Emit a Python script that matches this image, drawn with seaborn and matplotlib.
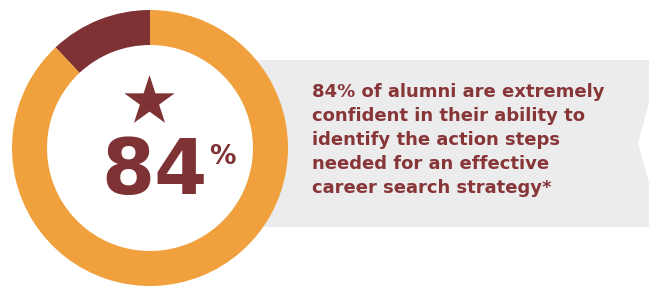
import matplotlib
matplotlib.use("Agg")
import matplotlib.pyplot as plt
import seaborn as sns
from matplotlib.patches import Polygon, Circle

# Data
labels = ["Not extremely confident", "Extremely confident"]
values = [12, 88]
headline = "84"
caption_lines = [
    "84% of alumni are extremely",
    "confident in their ability to",
    "identify the action steps",
    "needed for an effective",
    "career search strategy*",
]

ORANGE = "#F0A03C"
DARK = "#7F3234"
TEXT = "#873537"
GRAY = "#ECECEC"

sns.set_theme(style="white")
plt.rcParams["font.family"] = ["DejaVu Sans"]

W, H = 649, 289
fig = plt.figure(figsize=(W / 100, H / 100), dpi=100)
ax = fig.add_axes([0, 0, 1, 1])

def Y(y):
    return H - y

# banner
banner = Polygon([(150, Y(60)), (649, Y(60)), (649, Y(103)), (638, Y(143)),
                  (649, Y(183)), (649, Y(227)), (150, Y(227))],
                 closed=True, facecolor=GRAY, edgecolor="none", zorder=1)
ax.add_patch(banner)

cx, cy = 150, Y(148)
R = 138
ax.add_patch(Circle((cx, cy), R - 35, facecolor="white", edgecolor="none", zorder=2))
ax.pie(values, colors=[DARK, ORANGE], startangle=90, counterclock=True,
       center=(cx, cy), radius=R, frame=True,
       wedgeprops=dict(width=35, edgecolor="none", linewidth=0, zorder=3))
ax.set_xlim(0, W)
ax.set_ylim(0, H)
ax.set_aspect("equal")
ax.axis("off")

# star
ax.scatter([149], [Y(101)], marker="*", s=1450, color=DARK, zorder=4, linewidths=0)

# big number
ax.text(155, Y(173), headline, fontsize=55, fontweight="bold", color=DARK,
        ha="center", va="center", zorder=4)
ax.text(222, Y(157), "%", fontsize=19, fontweight="bold", color=DARK,
        ha="center", va="center", zorder=4)

for i, line in enumerate(caption_lines):
    ax.text(312, Y(92 + i * 24), line, fontsize=13, fontweight="bold",
            color=TEXT, ha="left", va="center", zorder=4)

fig.savefig("out.png", dpi=100)
